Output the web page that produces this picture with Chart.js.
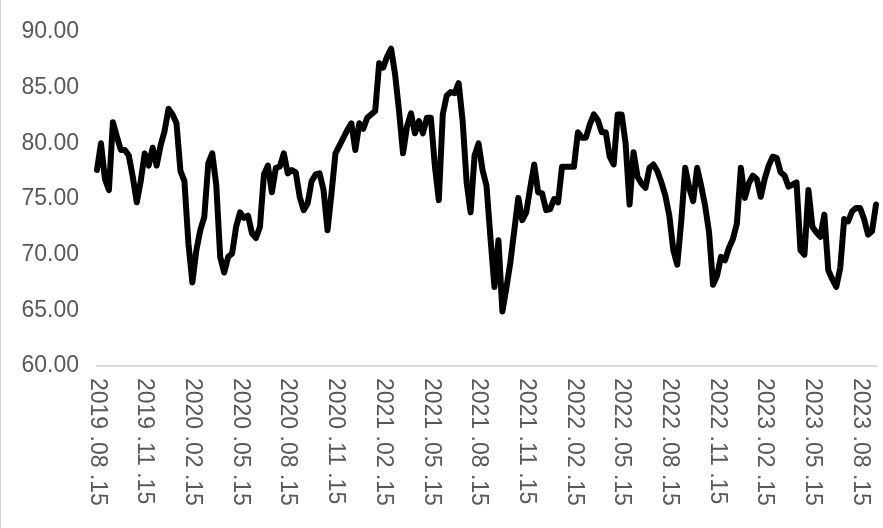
<!DOCTYPE html>
<html>
<head>
<meta charset="utf-8">
<script src="https://cdn.jsdelivr.net/npm/chart.js@4/dist/chart.umd.min.js"></script>
<style>
    body { margin: 0; background: #fff; }
    #wrap { width: 883px; height: 528px; }
</style>
</head>
<body>
<div id="wrap"><canvas id="lineChart" width="883" height="528"></canvas></div>
<script>
// tick labels shown on the x axis (every 3 months)
var tickLabels = ['2019.08.15', '2019.11.15', '2020.02.15', '2020.05.15', '2020.08.15', '2020.11.15',
    '2021.02.15', '2021.05.15', '2021.08.15', '2021.11.15', '2022.02.15', '2022.05.15',
    '2022.08.15', '2022.11.15', '2023.02.15', '2023.05.15', '2023.08.15'];

// weekly-ish observation days within each month
var weekDays = ['15', '22', '01', '08'];

// series values
var values = [
    77.6, 80.0, 76.8, 75.8, 81.9, 80.6, 79.4, 79.4, 78.9, 77.0,
    74.7, 76.6, 79.1, 78.0, 79.6, 78.0, 79.8, 81.1, 83.1, 82.6,
    81.8, 77.5, 76.6, 71.0, 67.5, 70.4, 72.2, 73.4, 78.2, 79.1,
    76.3, 69.8, 68.4, 69.8, 70.1, 72.5, 73.8, 73.3, 73.5, 71.9,
    71.5, 72.5, 77.2, 78.0, 75.6, 77.8, 77.9, 79.1, 77.3, 77.6,
    77.4, 75.2, 74.0, 74.6, 76.6, 77.2, 77.3, 75.8, 72.2, 75.5,
    79.1, 79.8, 80.5, 81.2, 81.8, 79.4, 81.8, 81.3, 82.3, 82.6,
    82.9, 87.2, 86.8, 87.8, 88.5, 86.2, 82.9, 79.1, 81.5, 82.7,
    80.9, 82.0, 80.9, 82.3, 82.3, 78.0, 74.9, 82.6, 84.3, 84.6,
    84.5, 85.4, 82.0, 76.5, 73.8, 78.9, 80.0, 77.6, 76.2, 71.5,
    67.1, 71.3, 64.9, 67.0, 69.3, 72.2, 75.1, 73.1, 73.8, 76.0,
    78.1, 75.6, 75.5, 74.0, 74.1, 75.0, 74.7, 77.9, 77.9, 77.9,
    77.9, 81.0, 80.5, 80.5, 81.7, 82.6, 82.1, 81.0, 81.0, 78.8,
    78.1, 82.6, 82.6, 80.0, 74.5, 79.2, 77.0, 76.4, 76.0, 77.8,
    78.1, 77.5, 76.5, 75.3, 73.5, 70.4, 69.1, 73.0, 77.8, 76.0,
    74.8, 77.8, 76.2, 74.4, 72.0, 67.3, 68.1, 69.8, 69.5, 70.6,
    71.4, 72.8, 77.8, 75.1, 76.4, 77.1, 76.8, 75.2, 76.8, 78.0,
    78.8, 78.7, 77.4, 77.1, 76.1, 76.3, 76.5, 70.4, 70.0, 75.8,
    72.5, 72.0, 71.6, 73.6, 68.6, 67.8, 67.1, 68.8, 73.2, 73.0,
    73.9, 74.2, 74.2, 73.2, 71.8, 72.1, 74.5
];

// category labels: one per observation, starting 2019.08.15
var categories = [];
(function () {
    var y = 2019, m = 8;
    for (var i = 0; i < values.length; i++) {
        var k = i % 4;
        var mm = m, yy = y;
        if (k >= 2) { mm = m + 1; if (mm > 12) { mm = 1; yy = y + 1; } }
        categories.push(yy + '.' + String(mm).padStart(2, '0') + '.' + weekDays[k]);
        if (k === 3) { m++; if (m > 12) { m = 1; y++; } }
    }
})();

var labelFont = '23px "Liberation Sans", Arial, sans-serif';
var labelColor = '#595959';

// draws the x tick labels rotated clockwise (top to bottom)
var rotatedLabels = {
    id: 'rotatedLabels',
    beforeDraw: function (chart) {
        var ctx = chart.ctx;
        ctx.save();
        ctx.strokeStyle = '#d4d4d4';
        ctx.lineWidth = 1;
        ctx.beginPath();
        ctx.moveTo(0.5, 0);
        ctx.lineTo(0.5, chart.height);
        ctx.stroke();
        ctx.restore();
    },
    afterDraw: function (chart) {
        var ctx = chart.ctx;
        var xScale = chart.scales.x;
        ctx.save();
        ctx.font = labelFont;
        ctx.fillStyle = labelColor;
        ctx.textAlign = 'left';
        ctx.textBaseline = 'middle';
        tickLabels.forEach(function (lab) {
            var idx = categories.indexOf(lab);
            if (idx < 0) return;
            var x = xScale.getPixelForValue(idx);
            ctx.save();
            ctx.translate(x, chart.chartArea.bottom + 12);
            ctx.rotate(Math.PI / 2);
            ctx.fillText(lab.split('.').join(' .'), 0, 0);
            ctx.restore();
        });
        ctx.restore();
    }
};

var ctx = document.getElementById('lineChart').getContext('2d');
var lineChart = new Chart(ctx, {
    type: 'line',
    data: {
        labels: categories,
        datasets: [{
            label: 'series',
            data: values,
            borderColor: '#000000',
            borderWidth: 6,
            pointRadius: 0,
            tension: 0,
            borderJoinStyle: 'round',
            borderCapStyle: 'round'
        }]
    },
    options: {
        responsive: false,
        animation: false,
        devicePixelRatio: 1,
        layout: { padding: { top: 32, right: 7, left: 0, bottom: 0 } },
        scales: {
            x: {
                offset: false,
                grid: { display: false },
                border: { display: true, color: '#d9d9d9', width: 2 },
                ticks: { display: false },
                afterFit: function (scale) { scale.height = 162; }
            },
            y: {
                min: 60,
                max: 90,
                grid: { display: false, drawTicks: false },
                border: { display: false },
                ticks: {
                    stepSize: 5,
                    padding: 18,
                    color: labelColor,
                    font: { family: '"Liberation Sans", Arial, sans-serif', size: 23 },
                    callback: function (v) { return Number(v).toFixed(2); }
                },
                afterFit: function (scale) { scale.width = 97; }
            }
        },
        plugins: {
            legend: { display: false },
            title: { display: false },
            tooltip: { enabled: false }
        }
    },
    plugins: [rotatedLabels]
});
</script>
</body>
</html>
